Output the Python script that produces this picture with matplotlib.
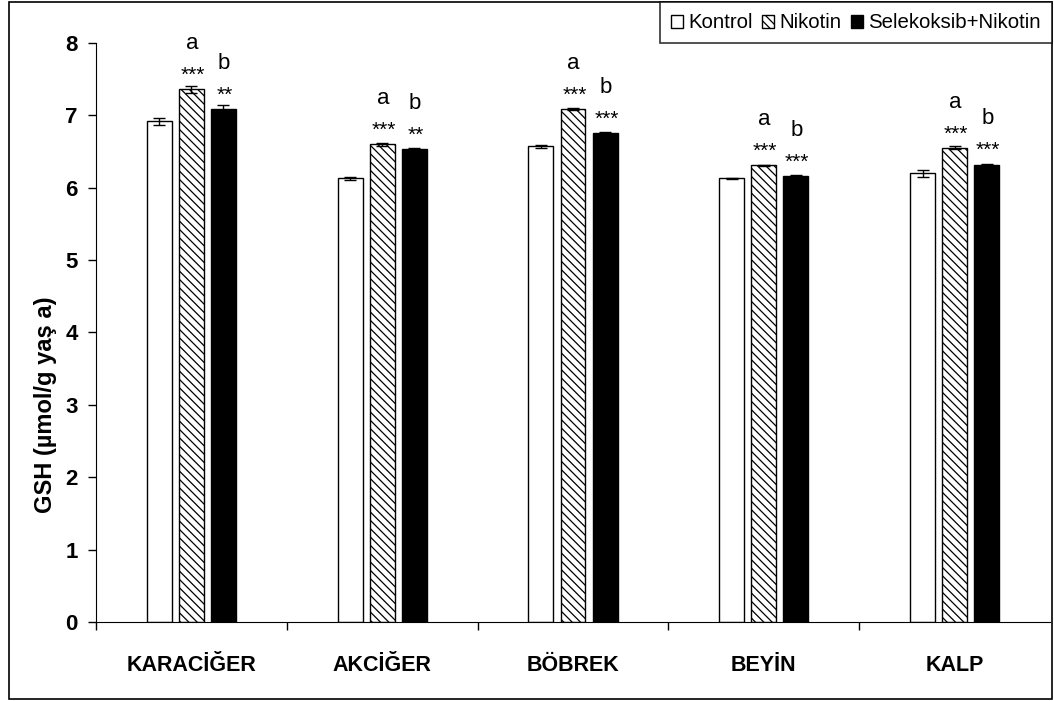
import matplotlib
matplotlib.use("Agg")
import matplotlib.pyplot as plt
from matplotlib.patches import Patch, Rectangle
import numpy as np

plt.rcParams['font.family'] = ['Liberation Sans', 'DejaVu Sans']
plt.rcParams['hatch.linewidth'] = 0.9

organs = ['KARACİĞER', 'AKCİĞER', 'BÖBREK', 'BEYİN', 'KALP']
groups = ['Kontrol', 'Nikotin', 'Selekoksib+Nikotin']

kontrol = [6.92, 6.13, 6.57, 6.13, 6.20]
nikotin = [7.36, 6.60, 7.09, 6.31, 6.55]
selekoksib = [7.09, 6.53, 6.75, 6.16, 6.32]

kontrol_err = [0.05, 0.02, 0.02, 0.01, 0.05]
nikotin_err = [0.05, 0.02, 0.01, 0.01, 0.02]
selekoksib_err = [0.05, 0.02, 0.02, 0.02, 0.01]

# significance marks: stars vs kontrol, letters between groups
nikotin_stars = ['***', '***', '***', '***', '***']
selekoksib_stars = ['**', '**', '***', '***', '***']
nikotin_letter = ['a', 'a', 'a', 'a', 'a']
selekoksib_letter = ['b', 'b', 'b', 'b', 'b']

fig = plt.figure(figsize=(10.54, 7.01), dpi=100)
ax = fig.add_axes([96 / 1054, 1 - 622 / 701, (1050 - 96) / 1054, (622 - 43) / 701])

x = np.arange(len(organs))
w = 0.131
off = 0.168

err_kw = dict(ecolor='black', elinewidth=1, capsize=4.5, capthick=1)
ax.bar(x - off, kontrol, w, yerr=kontrol_err, color='white', edgecolor='black',
       linewidth=1, error_kw=err_kw, label=groups[0])
ax.bar(x, nikotin, w, yerr=nikotin_err, color='white', edgecolor='black',
       hatch='\\\\\\\\', linewidth=1, error_kw=err_kw, label=groups[1])
ax.bar(x + off, selekoksib, w, yerr=selekoksib_err, color='black', edgecolor='black',
       linewidth=1, error_kw=err_kw, label=groups[2])

for i in range(len(organs)):
    for xc, val, st, let in [(x[i], nikotin[i], nikotin_stars[i], nikotin_letter[i]),
                             (x[i] + off, selekoksib[i], selekoksib_stars[i], selekoksib_letter[i])]:
        ax.annotate(st, (xc, val), xytext=(1, 6), textcoords='offset points',
                    ha='center', va='baseline', fontsize=15)
        ax.annotate(let, (xc, val), xytext=(0.5, 29), textcoords='offset points',
                    ha='center', va='baseline', fontsize=16)

ax.set_xlim(-0.5, len(organs) - 0.5)
ax.set_ylim(0, 8)
ax.set_yticks(range(0, 9))
ax.set_xticks(x)
ax.set_xticklabels(organs, fontsize=15.5, fontweight='bold')
# separators between organ groups (none at the right end)
ax.set_xticks(np.arange(-0.5, len(organs) - 1, 1.0), minor=True)
ax.tick_params(axis='x', which='major', length=0, pad=24)
ax.tick_params(axis='x', which='minor', length=6, direction='out', width=1)
ax.tick_params(axis='y', length=6, direction='out', width=1, labelsize=16, pad=7)
for lab in ax.get_yticklabels():
    lab.set_fontweight('bold')

ax.spines['top'].set_visible(False)
ax.spines['right'].set_visible(False)
ax.set_ylabel('GSH (µmol/g yaş a)', fontsize=17, fontweight='bold', va='center')
ax.yaxis.set_label_coords((46 - 96) / 954, (622 - 405) / 579)

# outer border around the whole chart
fig.patches.append(Rectangle((9 / 1054, 1 - 699 / 701), 1043 / 1054, 697 / 701,
                             transform=fig.transFigure, fill=False,
                             edgecolor='black', linewidth=1.2))

handles = [Patch(facecolor='white', edgecolor='black', label=groups[0]),
           Patch(facecolor='white', edgecolor='black', hatch='\\\\\\\\', label=groups[1]),
           Patch(facecolor='black', edgecolor='black', label=groups[2])]
leg = fig.legend(handles=handles, loc='upper right', bbox_to_anchor=(1052 / 1054, 1 - 2 / 701),
                 ncol=3, frameon=True, fancybox=False, edgecolor='black', fontsize=14.7,
                 handlelength=0.6, handleheight=0.6, handletextpad=0.25, columnspacing=0.45,
                 borderaxespad=0, borderpad=0.55)
leg.get_frame().set_linewidth(1.2)

fig.savefig('out.png', dpi=100)
